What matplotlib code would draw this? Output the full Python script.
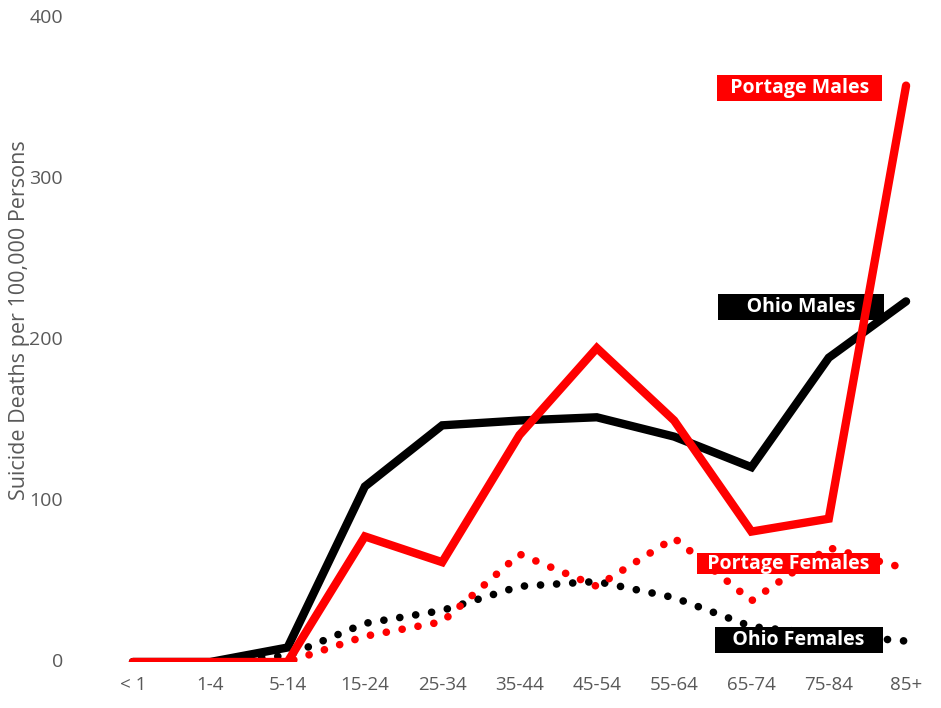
import matplotlib
matplotlib.use("Agg")
import matplotlib.pyplot as plt

categories = ["< 1", "1-4", "5-14", "15-24", "25-34", "35-44", "45-54", "55-64", "65-74", "75-84", "85+"]
portage_males = [0, 0, 0, 78, 62, 141, 195, 150, 81, 89, 358]
ohio_males = [0, 0, 9, 109, 147, 150, 152, 140, 121, 189, 224]
portage_females = [0, 0, 0, 16, 25, 67, 47, 77, 38, 71, 58]
ohio_females = [0, 0, 4, 24, 32, 47, 50, 40, 22, 17, 13]
yticks = [0, 100, 200, 300, 400]

plt.rcParams['font.family'] = ['Open Sans', 'DejaVu Sans']

fig = plt.figure(figsize=(9.41, 7.08), dpi=100)
ax = fig.add_axes([102/941, 46/708, (937-102)/941, 644/708])
x = list(range(len(categories)))

dot = (0, (0.01, 2.1))
ax.plot(x, ohio_females, color='black', lw=5.5, linestyle=dot, dash_capstyle='round', zorder=2)
ax.plot(x, portage_females, color='#ff0000', lw=5.5, linestyle=dot, dash_capstyle='round', zorder=2)
ax.plot(x, ohio_males, color='black', lw=6, solid_joinstyle='miter', solid_capstyle='round', zorder=3)
ax.plot(x, portage_males, color='#ff0000', lw=6, solid_joinstyle='miter', solid_capstyle='round', zorder=5)

def label(xc, yc, text, fc, pad=0.14):
    ax.text(xc, yc, text, color='white', fontsize=14, fontweight='bold', ha='center', va='center',
            zorder=4, bbox=dict(boxstyle='square,pad=%g' % pad, fc=fc, ec='none'))

label(8.62, 356.5, "  Portage Males  ", '#ff0000')
label(8.64, 220.5, "     Ohio Males     ", 'black')
label(8.48, 61, "  Portage Females  ", '#ff0000', pad=0.02)
label(8.61, 13.7, "   Ohio Females   ", 'black')

ax.set_xlim(-0.4, 10.4)
ax.set_ylim(0, 400)
ax.set_xticks(x)
ax.set_xticklabels(categories)
ax.set_yticks(yticks)
for s in ax.spines.values():
    s.set_visible(False)
ax.tick_params(length=0, colors='#595959')
ax.tick_params(axis='x', labelsize=13.5, pad=10)
ax.tick_params(axis='y', labelsize=14, pad=28)
for t in ax.get_yticklabels():
    t.set_va('center')
fig.text(20/941, 388/708, "Suicide Deaths per 100,000 Persons", rotation=90, fontsize=15.5,
         color='#595959', ha='center', va='center')

fig.savefig("out.png", dpi=100)
